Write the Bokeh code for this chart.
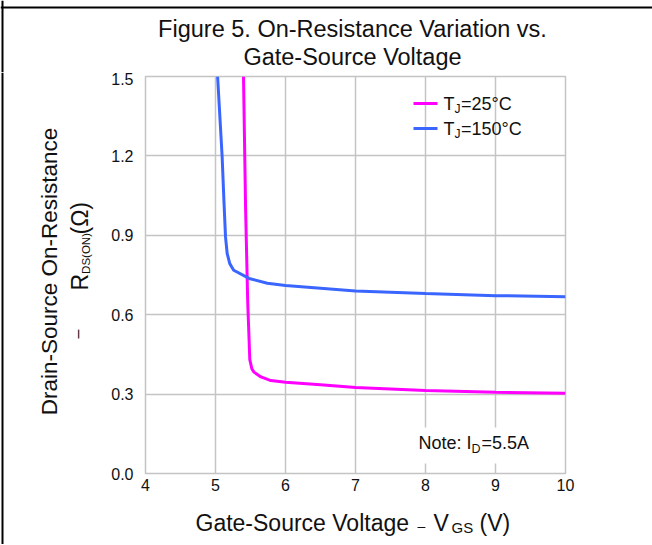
import math
from bokeh.plotting import figure
from bokeh.layouts import column, row
from bokeh.models import Label, BoxAnnotation, Range1d, FixedTicker, NumeralTickFormatter, Span
from bokeh.embed import file_html
from bokeh.resources import INLINE

# ---------------- data ----------------
vgs_25 = [5.40, 5.43, 5.46, 5.49, 5.52, 5.55, 5.65, 5.79, 6.0, 6.5, 7.0, 8.0, 9.0, 10.0]
rds_25 = [1.50, 1.00, 0.65, 0.43, 0.395, 0.383, 0.365, 0.351, 0.345, 0.335, 0.325, 0.314, 0.307, 0.303]
vgs_150 = [5.03, 5.095, 5.12, 5.143, 5.167, 5.204, 5.26, 5.48, 5.74, 6.0, 7.0, 8.0, 9.0, 10.0]
rds_150 = [1.50, 1.196, 1.033, 0.894, 0.831, 0.793, 0.768, 0.737, 0.719, 0.710, 0.690, 0.680, 0.672, 0.668]
x_ticks = [4, 5, 6, 7, 8, 9, 10]
y_ticks = [0.0, 0.3, 0.6, 0.9, 1.2, 1.5]
series_colors = ["#FF00FF", "#3A66FF"]
legend_suffix = ["=25\u00b0C", "=150\u00b0C"]
title_lines = ["Figure 5. On-Resistance Variation vs.", "Gate-Source Voltage"]

FONT = "Liberation Sans"
INK = "#111111"
GRID = "#c4c4c4"
BASE_K = 0.3465   # label anchor -> alphabetic baseline offset (in em)

# ---------------- geometry (page px, page origin = canvas origin) ----------------
TOTAL_W = 652
LEFT_W = 95
TITLE_H = 72
MAIN_H = 428
XLAB_H = 44
FL, FR, FT, FB = 145, 565, 76, 473
RIGHT_W = TOTAL_W - LEFT_W
MAIN_Y0 = TITLE_H
XLAB_Y0 = MAIN_Y0 + MAIN_H
BOTTOM = XLAB_Y0 + XLAB_H
BL = FL - LEFT_W
BR = LEFT_W + RIGHT_W - FR


def aux(w, h, xr, yr, bl=0, br=0):
    f = figure(width=w, height=h, x_range=Range1d(*xr), y_range=Range1d(*yr),
               output_backend="svg", toolbar_location=None, title=None,
               min_border_left=bl, min_border_right=br, min_border_top=0, min_border_bottom=0,
               x_axis_type=None, y_axis_type=None)
    f.outline_line_color = None
    f.background_fill_color = "white"
    f.border_fill_color = "white"
    return f


def put(fig, px, py, text, size, align="left", rotated=False):
    # (px, py): page position of the start (or centre) of the text on its baseline
    if rotated:
        x, y, ang = px - BASE_K * size, py, math.pi / 2
    else:
        x, y, ang = px, py - BASE_K * size, 0.0
    fig.add_layout(Label(x=x, y=y, text=text, text_font=FONT,
                         text_font_size=f"{size}px", text_color=INK,
                         text_align=align, text_baseline="alphabetic",
                         angle=ang, angle_units="rad"))


def border(fig, loc, dim):
    fig.add_layout(Span(location=loc, dimension=dim, line_color="black", line_width=2))


# ---------------- main chart ----------------
p = figure(width=RIGHT_W, height=MAIN_H, x_range=Range1d(4, 10), y_range=Range1d(0, 1.5),
           output_backend="svg", toolbar_location=None, title=None,
           min_border_left=BL, min_border_right=BR,
           min_border_top=FT - MAIN_Y0, min_border_bottom=XLAB_Y0 - FB)
p.background_fill_color = "white"
p.border_fill_color = "white"
p.outline_line_color = GRID
p.outline_line_width = 1.5

for ax in (p.xaxis[0], p.yaxis[0]):
    ax.axis_line_color = None
    ax.major_tick_line_color = None
    ax.minor_tick_line_color = None
    ax.major_tick_out = 0
    ax.major_tick_in = 0
    ax.minor_tick_out = 0
    ax.major_label_text_font = FONT
    ax.major_label_text_font_size = "16px"
    ax.major_label_text_color = INK
p.xaxis.ticker = FixedTicker(ticks=x_ticks)
p.yaxis.ticker = FixedTicker(ticks=y_ticks)
p.yaxis.formatter = NumeralTickFormatter(format="0.0")
p.xaxis.major_label_standoff = 5
p.yaxis.major_label_standoff = 12

p.xgrid.ticker = FixedTicker(ticks=x_ticks)
p.ygrid.ticker = FixedTicker(ticks=y_ticks)
for g in (p.xgrid[0], p.ygrid[0]):
    g.grid_line_color = GRID
    g.grid_line_width = 1.5

p.line(vgs_25, rds_25, line_color=series_colors[0], line_width=3)
p.line(vgs_150, rds_150, line_color=series_colors[1], line_width=3)


def dx(px):
    return 4 + (px - FL) / (FR - FL) * 6


def dy(py):
    return (FB - py) / (FB - FT) * 1.5


def ptxt(px, py, text, size):
    p.add_layout(Label(x=dx(px), y=dy(py - BASE_K * size), text=text, text_font=FONT,
                       text_font_size=f"{size}px", text_color=INK,
                       text_align="left", text_baseline="alphabetic"))


# legend (inside the frame)
for i, (suffix, col) in enumerate(zip(legend_suffix, series_colors)):
    ly = 103 + 25 * i
    p.segment(x0=[dx(413)], y0=[dy(ly)], x1=[dx(437)], y1=[dy(ly)], line_color=col, line_width=3)
    ptxt(443, ly + 6.5, "T", 18)
    ptxt(454, ly + 9.5, "J", 12)
    ptxt(460.5, ly + 6.5, suffix, 18)

# note with white box
p.add_layout(BoxAnnotation(left=dx(410), right=dx(540), top=dy(427), bottom=dy(463),
                           fill_color="white", fill_alpha=1.0, line_color=None))
ptxt(418, 449, "Note: I", 18)
ptxt(471, 452.5, "D", 12.5)
ptxt(481, 449, "=5.5A", 18)

# ---------------- title strip (full width, carries the page frame lines) ----------------
tf = aux(TOTAL_W, TITLE_H, (0, TOTAL_W), (TITLE_H, 0))
border(tf, 7, "width")
border(tf, 2, "height")
put(tf, 352, 37, title_lines[0], 23.5, align="center")
put(tf, 352, 65, title_lines[1], 23.5, align="center")

# ---------------- left strip: y axis title ----------------
lf = aux(LEFT_W, BOTTOM - MAIN_Y0, (0, LEFT_W), (BOTTOM, MAIN_Y0))
put(lf, 56.5, 271, "Drain-Source On-Resistance", 22.5, align="center", rotated=True)
put(lf, 83, 338, "\u2013", 16, rotated=True)
put(lf, 87, 290, "R", 23, rotated=True)
put(lf, 89.5, 273.4, "DS(ON)", 11.5, rotated=True)
put(lf, 87, 234, "(\u03a9)", 23, rotated=True)
border(lf, 2, "height")

# ---------------- x axis title ----------------
xf = aux(RIGHT_W, XLAB_H, (FL, FR), (BOTTOM, XLAB_Y0), BL, BR)
XB = 530
put(xf, 195, XB, "Gate-Source Voltage", 23)
put(xf, 417, XB, "\u2013", 14)
put(xf, 433, XB, "V", 23)
put(xf, 451, XB + 2.5, "GS", 15)
put(xf, 479, XB, "(V)", 23)

layout = column(tf, row(lf, column(p, xf)))
open("out.html", "w").write(file_html(layout, INLINE))
